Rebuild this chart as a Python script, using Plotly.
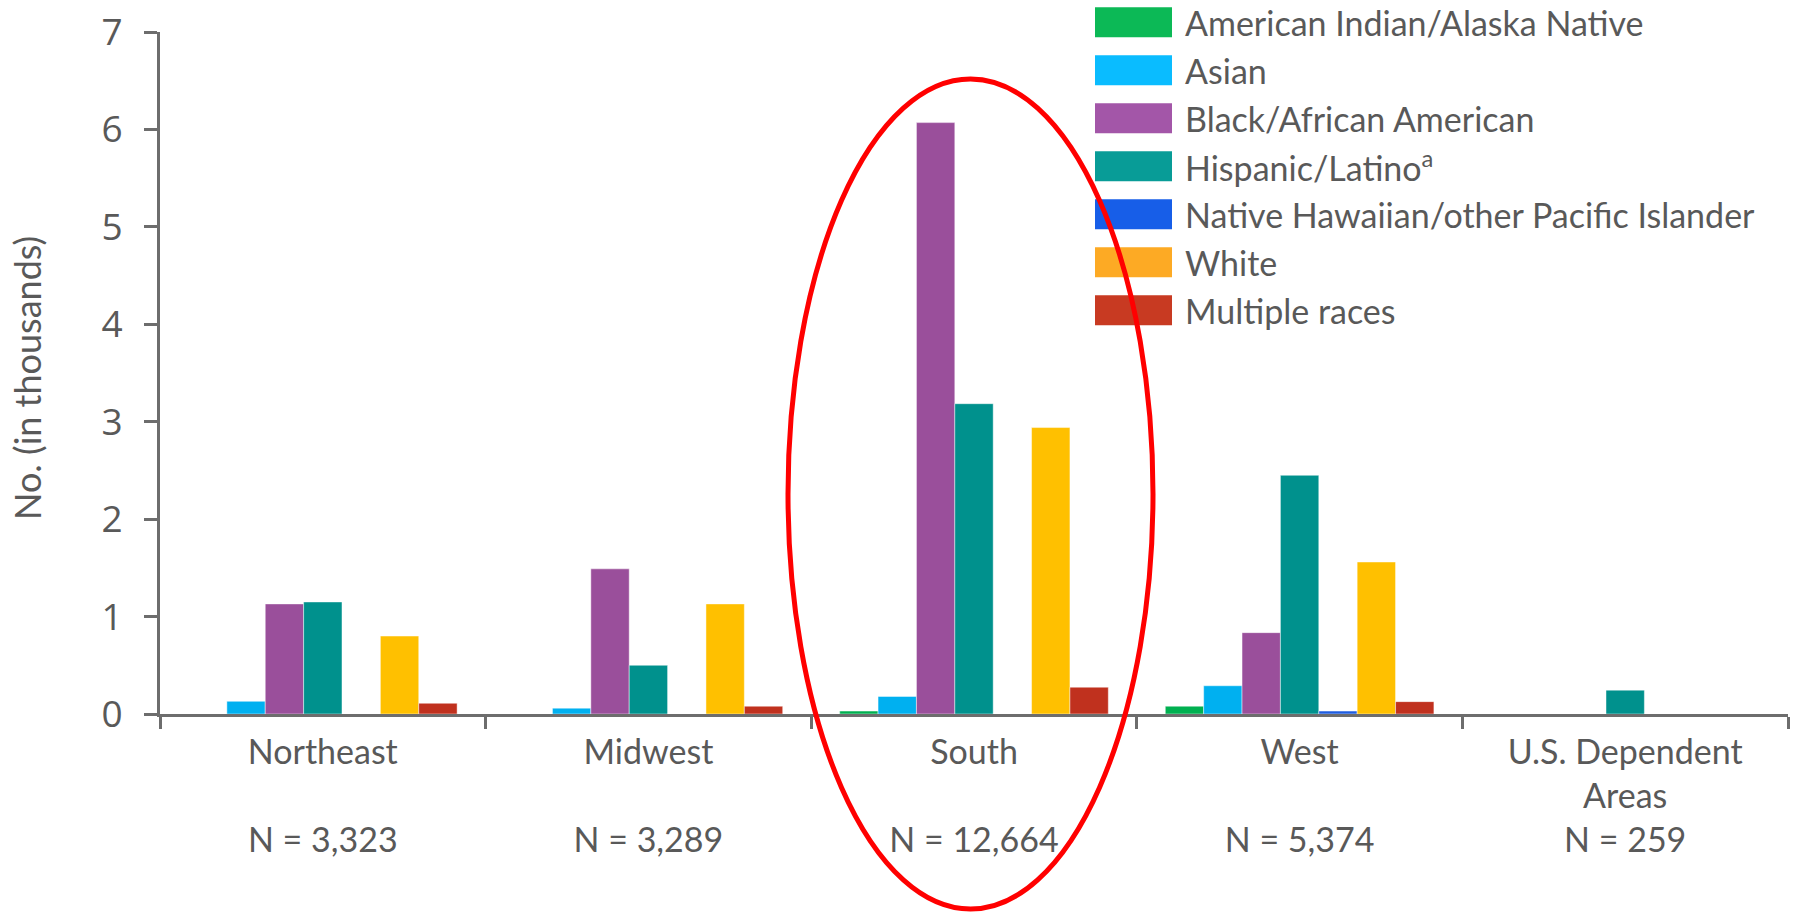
import plotly.graph_objects as go

# Regions and their sample sizes
regions = ["Northeast", "Midwest", "South", "West", "U.S. Dependent Areas"]
region_ticks = [
    "Northeast<br>\u00a0<br>N = 3,323",
    "Midwest<br>\u00a0<br>N = 3,289",
    "South<br>\u00a0<br>N = 12,664",
    "West<br>\u00a0<br>N = 5,374",
    "U.S. Dependent<br>Areas<br>N = 259",
]

# Counts per region, in thousands
aian = [0.0, 0.0, 0.03, 0.08, 0.0]
asian = [0.13, 0.06, 0.18, 0.29, 0.0]
black = [1.13, 1.49, 6.07, 0.835, 0.0]
hispanic = [1.15, 0.50, 3.185, 2.45, 0.245]
nhpi = [0.0, 0.0, 0.0, 0.03, 0.0]
white = [0.80, 1.13, 2.94, 1.56, 0.0]
multiple = [0.11, 0.08, 0.275, 0.127, 0.0]

series_names = [
    "American Indian/Alaska Native",
    "Asian",
    "Black/African American",
    "Hispanic/Latino<sup>a</sup>",
    "Native Hawaiian/other Pacific Islander",
    "White",
    "Multiple races",
]
series_values = [aian, asian, black, hispanic, nhpi, white, multiple]
bar_colors = ["#00b050", "#00b0f0", "#9a4f9b", "#00918d", "#1f5de0", "#ffc000", "#c0311e"]
key_colors = ["#0cb956", "#0abcff", "#a356a8", "#089c97", "#175ee8", "#fdaa24", "#c83a22"]

# Page and plot box geometry (pixels)
W, H = 1794, 913
L, R, T, B = 160, 6, 32, 199
PW, PH = W - L - R, H - T - B

def px_x(x):
    return (x - L) / PW

def px_y(y):
    return (H - B - y) / PH

TEXT = "#595959"
AXIS = "#6d6d6d"
FONT = "Lato"

fig = go.Figure()
for name, vals, col in zip(series_names, series_values, bar_colors):
    fig.add_trace(go.Bar(
        x=regions, y=vals, name=name,
        marker=dict(color=col, line=dict(color="rgba(255,255,255,0.45)", width=1)),
        showlegend=False,
    ))

shapes = []
annotations = []

# Key: swatches and labels
for i, (name, col) in enumerate(zip(series_names, key_colors)):
    top = 7.3 + 48 * i
    shapes.append(dict(
        type="rect", xref="paper", yref="paper",
        x0=px_x(1095), x1=px_x(1172), y0=px_y(top + 30), y1=px_y(top),
        fillcolor=col, line=dict(width=0), layer="above",
    ))
    annotations.append(dict(
        xref="paper", yref="paper", x=px_x(1183), y=px_y(top + 15),
        xanchor="left", yanchor="middle", text=name, showarrow=False,
        font=dict(family=FONT, size=34, color=TEXT),
    ))

# Highlight around the South group
shapes.append(dict(
    type="circle", xref="paper", yref="paper",
    x0=px_x(788), x1=px_x(1153), y0=px_y(909), y1=px_y(79),
    line=dict(color="#ff0000", width=5), fillcolor="rgba(0,0,0,0)", layer="above",
))

# Y-axis title
annotations.append(dict(
    xref="paper", yref="paper", x=px_x(27), y=px_y(378),
    xanchor="center", yanchor="middle", text="No. (in thousands)", textangle=-90,
    showarrow=False, font=dict(family=FONT, size=36, color=TEXT),
))

fig.update_layout(
    width=W, height=H,
    margin=dict(l=L, r=R, t=T, b=B, pad=0),
    paper_bgcolor="white", plot_bgcolor="white",
    barmode="group", bargap=0.175, bargroupgap=0,
    shapes=shapes, annotations=annotations,
    font=dict(family=FONT, color=TEXT),
)
fig.update_xaxes(
    type="category", tickmode="array", tickvals=regions, ticktext=region_ticks,
    tickson="boundaries", ticks="outside", ticklen=12, tickwidth=2.5, tickcolor=AXIS,
    showline=True, linecolor=AXIS, linewidth=3, showgrid=False, zeroline=False,
    tickfont=dict(family=FONT, size=34, color=TEXT), tickangle=0, ticklabelstandoff=6,
)
fig.update_yaxes(
    range=[0, 7], tickvals=[0, 1, 2, 3, 4, 5, 6, 7],
    ticks="outside", ticklen=13, tickwidth=2.5, tickcolor=AXIS,
    showline=True, linecolor=AXIS, linewidth=3, showgrid=False, zeroline=False,
    tickfont=dict(family="Open Sans", size=37, color=TEXT), ticklabelstandoff=14,
)

fig.write_html("out.html")
